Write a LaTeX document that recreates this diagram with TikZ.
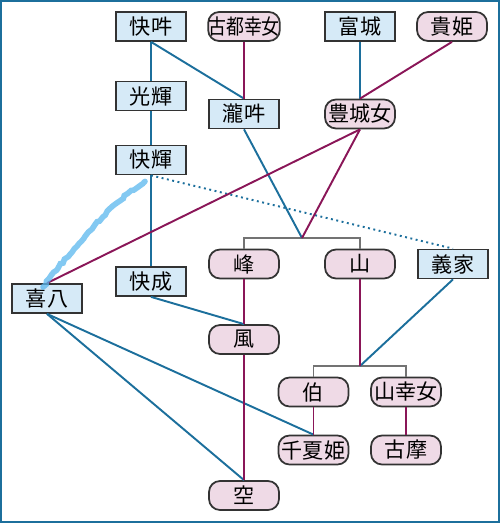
\documentclass[tikz,border=0pt]{standalone}
\usepackage{fontspec}
\usepackage{graphicx}
\setmainfont{Noto Sans CJK JP}
\usetikzlibrary{decorations.pathmorphing}
\definecolor{boxblue}{HTML}{D6EAF7}
\definecolor{boxpink}{HTML}{EFDAE6}
\definecolor{lineblue}{HTML}{1C6F9C}
\definecolor{linepurple}{HTML}{8A1658}
\definecolor{crayon}{HTML}{5AB7EE}
\tikzset{
  man/.style={draw=black!80, fill=boxblue, line width=1pt, minimum width=1.4cm, minimum height=0.58cm, inner sep=0pt, font=\fontsize{12}{12}\selectfont},
  woman/.style={man, fill=boxpink, rounded corners=0.22cm},
  bl/.style={lineblue, line width=1.1pt},
  pl/.style={linepurple, line width=1.1pt},
  sib/.style={black!55, line width=0.9pt}
}
\begin{document}
\begin{tikzpicture}[x=0.02cm, y=-0.02cm]
    \useasboundingbox (0,0) rectangle (500,523);
    \draw[lineblue, line width=1.3pt] (1,1) rectangle (499,522);
    % Top row
    \node[man] (kaiun) at (151,26.5) {快吽};
    \node[woman] (kotoko) at (244,26.5) {\scalebox{0.85}[1]{古都幸女}};
    \node[man] (tomishiro) at (360,26.5) {富城};
    \node[woman] (kihime) at (452,26.5) {貴姫};
    % Second row
    \node[man] (koki) at (151,96) {光輝};
    \node[man] (takiun) at (244,114) {瀧吽};
    \node[woman] (toyoshiro) at (360,114) {豊城女};
    \node[man] (kaiki) at (151,160) {快輝};
    % Middle
    \node[woman] (mine) at (244,264) {峰};
    \node[woman] (yama) at (360,264) {山};
    \node[man] (yoshiie) at (453,264) {義家};
    \node[man] (kihachi) at (47,298.5) {喜八};
    \node[man] (kaisei) at (151,281.5) {快成};
    \node[woman] (kaze) at (244,339.5) {風};
    % Bottom
    \node[woman] (haku) at (313.5,392) {伯};
    \node[woman] (yamasachi) at (406,392) {山幸女};
    \node[woman] (chinatsu) at (313.5,450) {千夏姫};
    \node[woman] (koma) at (406,450) {古摩};
    \node[woman] (sora) at (244,495.5) {空};
    % Sibling brackets
    \coordinate (j1) at (302,238);
    \coordinate (j2) at (360,366);
    \draw[sib] (mine.north) |- (j1) -| (yama.north);
    \draw[sib] (haku.north) |- (j2) -| (yamasachi.north);
    % Fathers
    \draw[bl] (kaiun.south) -- (koki.north); \draw[bl] (koki.south) -- (kaiki.north);
    \draw[bl] (kaiki.south) -- (kaisei.north); \draw[bl] (kaiun.south) -- (takiun.north);
    \draw[bl] (tomishiro.south) -- (toyoshiro.north); \draw[bl] (takiun.south) -- (j1);
    \draw[bl] (kaisei.south) -- (kaze.north); \draw[bl] (yoshiie.south) -- (j2);
    \draw[bl] (kihachi.south) -- (sora.north); \draw[bl] (kihachi.south) -- (chinatsu.north);
    \draw[bl, dotted] (kaiki.south) -- (yoshiie.north);
    % Mothers
    \draw[pl] (kotoko.south) -- (takiun.north); \draw[pl] (kihime.south) -- (toyoshiro.north);
    \draw[pl] (toyoshiro.south) -- (j1); \draw[pl] (toyoshiro.south) -- (kihachi.north);
    \draw[pl] (mine.south) -- (kaze.north); \draw[pl] (kaze.south) -- (sora.north);
    \draw[pl] (yama.south) -- (j2);
    \draw[pl] (haku.south) -- (chinatsu.north); \draw[pl] (yamasachi.south) -- (koma.north);
    % Crayon mark
    \draw[crayon, line width=3.2pt, line cap=round, opacity=0.75,
      decorate, decoration={random steps, segment length=2pt, amplitude=0.6pt}]
      ([shift={(-6,6)}]kaiki.south) .. controls (108,205) and (72,250) .. ([shift={(-4,4)}]kihachi.north);
\end{tikzpicture}
\end{document}
